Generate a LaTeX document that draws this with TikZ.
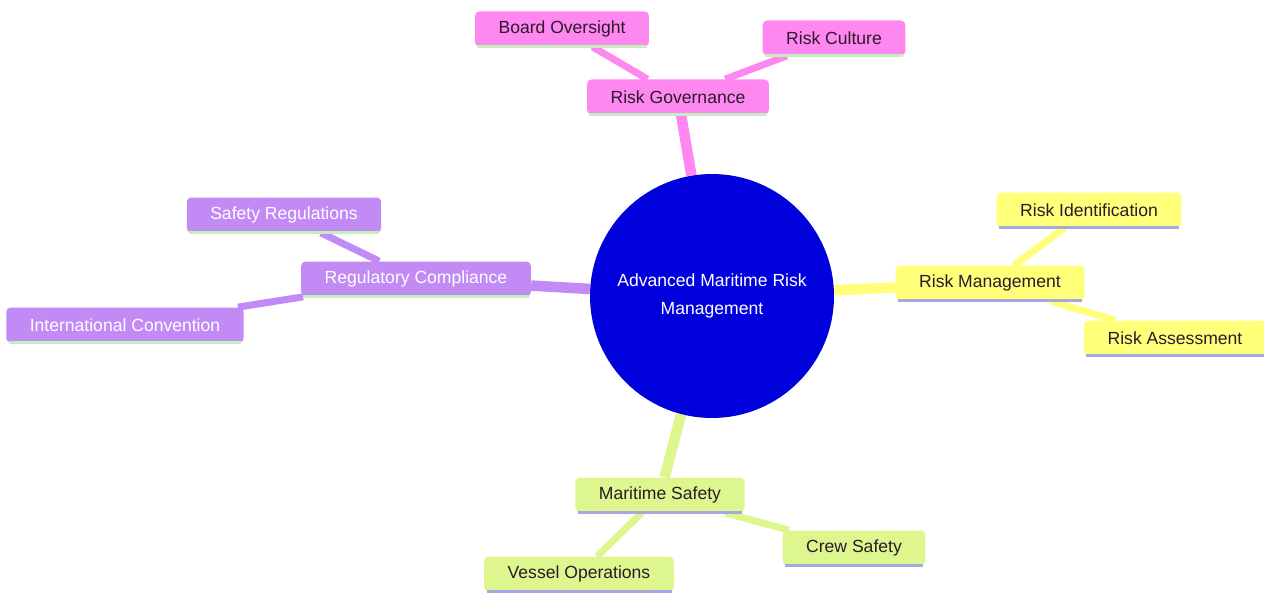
\documentclass[tikz,border=0pt]{standalone}
\usepackage{fontspec}
\setmainfont{Liberation Sans}
\usetikzlibrary{backgrounds}
\definecolor{govpink}{HTML}{FF88F0}
\definecolor{regpurple}{HTML}{C28AF5}
\definecolor{mgmtyellow}{HTML}{FFFF7A}
\definecolor{safegreen}{HTML}{DDF68E}
\definecolor{hubblue}{HTML}{0000DD}
\definecolor{rimgreen}{HTML}{C4EEBE}
\definecolor{rimviolet}{HTML}{A8A8E0}
\definecolor{darktext}{HTML}{2A1A2A}
\tikzset{
	topic/.style={fill=#1, rounded corners=2.5pt, minimum height=0.7cm, inner xsep=0.47cm, font=\fontsize{10pt}{12pt}\selectfont, text=darktext},
	hub/.style={circle, fill=hubblue, minimum size=4.88cm, align=center, text=white, font=\fontsize{10pt}{16pt}\selectfont},
	trunk/.style={line width=6pt, #1},
	twig/.style={line width=4pt, #1},
	rim/.style={line width=1.6pt, #1, shorten <=1.5pt, shorten >=1.5pt}
}
\begin{document}
\begin{tikzpicture}[x=0.02cm, y=-0.02cm]
	\useasboundingbox (0,0) rectangle (1264,594);
	\node[hub] (hub) at (712,296) {Advanced Maritime Risk\\Management};

	\node[topic=govpink] (gov) at (678,97) {Risk Governance};
	\node[topic=govpink] (board) at (562,29) {Board Oversight};
	\node[topic=govpink] (culture) at (834,38) {Risk Culture};

	\node[topic=mgmtyellow] (mgmt) at (990,283) {Risk Management};
	\node[topic=mgmtyellow] (ident) at (1089,210) {Risk Identification};
	\node[topic=mgmtyellow] (assess) at (1175,338) {Risk Assessment};

	\node[topic=regpurple, text=white] (reg) at (416,279) {Regulatory Compliance};
	\node[topic=regpurple, text=white] (safereg) at (284,215) {Safety Regulations};
	\node[topic=regpurple, text=white] (conv) at (125,325) {International Convention};

	\node[topic=safegreen] (safety) at (660,495) {Maritime Safety};
	\node[topic=safegreen] (crew) at (854,548) {Crew Safety};
	\node[topic=safegreen] (vessel) at (579,574) {Vessel Operations};

	\foreach \n in {gov,board,culture,reg,safereg,conv}
		\draw[rim=rimgreen] (\n.south west) -- (\n.south east);
	\foreach \n in {mgmt,ident,assess,safety,crew,vessel}
		\draw[rim=rimviolet] (\n.south west) -- (\n.south east);

	\begin{scope}[on background layer]
		\draw[trunk=govpink] (hub) -- (gov);
		\draw[twig=govpink] (gov) -- (board);
		\draw[twig=govpink] (gov) -- (culture);
		\draw[trunk=mgmtyellow] (hub) -- (mgmt);
		\draw[twig=mgmtyellow] (mgmt) -- (ident);
		\draw[twig=mgmtyellow] (mgmt) -- (assess);
		\draw[trunk=regpurple] (hub) -- (reg);
		\draw[twig=regpurple] (reg) -- (safereg);
		\draw[twig=regpurple] (reg) -- (conv);
		\draw[trunk=safegreen] (hub) -- (safety);
		\draw[twig=safegreen] (safety) -- (crew);
		\draw[twig=safegreen] (safety) -- (vessel);
	\end{scope}
\end{tikzpicture}
\end{document}
